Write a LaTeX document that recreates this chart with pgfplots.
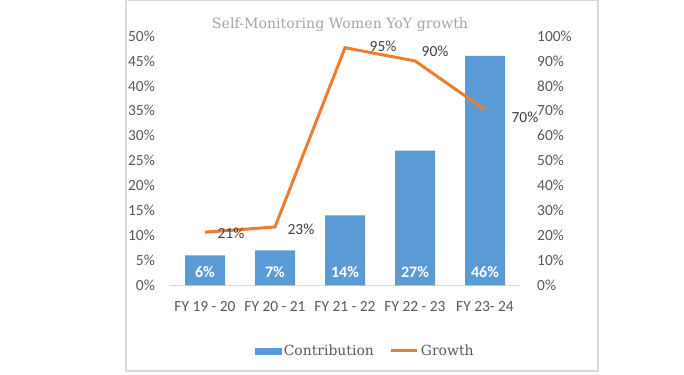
\documentclass[border=0pt]{standalone}
\usepackage{pgfplots}
\pgfplotsset{compat=1.18}
\usepackage{fontspec}
\setmainfont{Carlito}
\newfontfamily\seriff{DejaVu Serif}
\definecolor{barblue}{HTML}{5B9BD5}
\definecolor{lineorange}{HTML}{ED7D31}
\definecolor{txtgray}{HTML}{595959}
\definecolor{lblgray}{HTML}{404040}
\definecolor{titlegray}{HTML}{A6A6A6}
\definecolor{framegray}{HTML}{D9D9D9}
\begin{document}
\begin{tikzpicture}[x=1bp,y=1bp]
\path[use as bounding box, fill=white] (0,0) rectangle (684,374);
\draw[framegray, line width=1.5bp] (126,3) rectangle (598,373.25);
\node[font=\seriff\fontsize{14.2}{16}\selectfont, text=titlegray] at (340,349) {Self-Monitoring Women YoY growth};
\begin{axis}[at={(170bp,88.7bp)}, anchor=south west, scale only axis,
  width=350bp, height=249.3bp, xmin=-0.5, xmax=4.5, ymin=0, ymax=50,
  axis y line*=left, axis x line*=bottom,
  y axis line style={draw=none}, x axis line style={framegray, line width=1bp},
  major tick length=0, clip=false,
  /pgf/number format/assume math mode=true,
  ytick={0,5,...,50}, yticklabel={\pgfmathprintnumber{\tick}\%},
  xtick={0,1,2,3,4}, xticklabels={FY 19 - 20, FY 20 - 21, FY 21 - 22, FY 22 - 23, FY 23- 24},
  ticklabel style={font=\fontsize{15.5}{18}\selectfont, text=txtgray, inner sep=0pt},
  yticklabel style={anchor=east, xshift=-15bp},
  xticklabel style={anchor=base, yshift=-26bp},
]
\addplot[ybar, bar width=40bp, fill=barblue, draw=none] coordinates {(0,6) (1,7) (2,14) (3,27) (4,46)};
\addplot[draw=none, mark=none, nodes near coords, point meta=explicit symbolic,
  nodes near coords style={font=\bfseries\fontsize{16}{18}\selectfont, text=white, anchor=center, inner sep=0pt}]
  coordinates {(0,2.67)[6\%] (1,2.67)[7\%] (2,2.67)[14\%] (3,2.67)[27\%] (4,2.67)[46\%]};
\end{axis}
\begin{axis}[at={(170bp,88.7bp)}, anchor=south west, scale only axis,
  width=350bp, height=249.3bp, xmin=-0.5, xmax=4.5, ymin=0, ymax=100,
  axis y line*=right, axis x line=none,
  y axis line style={draw=none},
  major tick length=0, clip=false,
  /pgf/number format/assume math mode=true,
  ytick={0,10,...,100}, yticklabel={\pgfmathprintnumber{\tick}\%},
  ticklabel style={font=\fontsize{15.5}{18}\selectfont, text=txtgray, inner sep=0pt},
  yticklabel style={anchor=west, xshift=17bp},
  legend style={at={(0.5586,-0.2635)}, anchor=center, draw=none, fill=none,
    legend columns=2, font=\seriff\fontsize{14}{16}\selectfont, text=txtgray,
    /tikz/every even column/.append style={column sep=14bp}},
  legend entries={Contribution, Growth},
]
\addlegendimage{legend image code/.code={\fill[barblue] (0bp,-3bp) rectangle (26bp,3bp);}}
\addlegendimage{legend image code/.code={\draw[lineorange, line width=3bp] (0bp,0bp) -- (26bp,0bp);}}
\addplot[lineorange, line width=3bp, mark=none] coordinates {(0,21.3) (1,23.4) (2,95.3) (3,90) (4,70.4)};
\addplot[draw=none, mark=none, nodes near coords, point meta=explicit symbolic,
  nodes near coords style={font=\fontsize{15.5}{18}\selectfont, text=lblgray, anchor=center, inner sep=0pt}]
  coordinates {(0.371,21.0)[21\%] (1.371,22.6)[23\%] (2.543,95.7)[95\%] (3.286,94.0)[90\%] (4.571,67.5)[70\%]};
\end{axis}
\end{tikzpicture}
\end{document}
